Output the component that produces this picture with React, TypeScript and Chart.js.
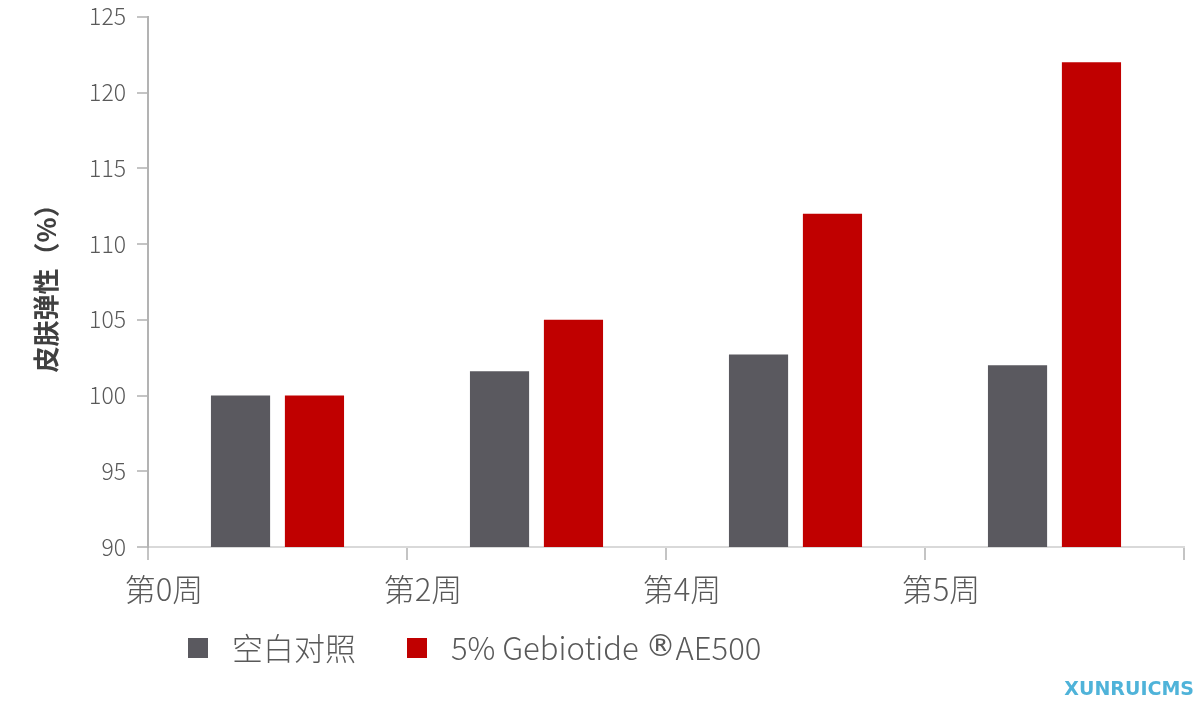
import React, { useEffect, useRef } from "react";
import { Chart, registerables } from "chart.js";

Chart.register(...registerables);

const categories = ["第0周", "第2周", "第4周", "第5周"];
const seriesNames = ["空白对照", "5% Gebiotide ®AE500"];
const controlValues = [100, 101.6, 102.7, 102.0];
const treatedValues = [100, 105, 112, 122];
const yTitle = "皮肤弹性（%）";
const watermark = "XUNRUICMS";

const FONT = '"Noto Sans CJK SC", "Noto Sans", sans-serif';
const TEXT = "#595959";
const COLORS = ["#5a595f", "#c00000"];

const legendPlugin = {
  id: "customLegend",
  afterDraw(chart: any) {
    const ctx = chart.ctx;
    ctx.save();
    const mainFont = `300 31px ${FONT}`;
    const symFont = `30px "DejaVu Sans", sans-serif`;
    ctx.textBaseline = "middle";
    let x = 188;
    const y = 648;
    chart.data.datasets.forEach((ds: any) => {
      ctx.fillStyle = ds.backgroundColor;
      ctx.fillRect(x, y - 10, 20, 20);
      x += 20 + 24;
      ctx.fillStyle = TEXT;
      const parts = String(ds.label).split("®");
      parts.forEach((p: string, j: number) => {
        if (j > 0) {
          ctx.font = symFont;
          ctx.fillText("®", x, y);
          x += ctx.measureText("®").width;
        }
        ctx.font = mainFont;
        ctx.fillText(p, x, y);
        x += ctx.measureText(p).width;
      });
      x += 51;
    });
    ctx.font = `bold 19px "DejaVu Sans", sans-serif`;
    ctx.fillStyle = "#4fb3d9";
    ctx.textAlign = "right";
    ctx.fillText(watermark, 1194, 690);
    ctx.restore();
  },
};

export default function App() {
  const ref = useRef<HTMLCanvasElement | null>(null);
  useEffect(() => {
    if (!ref.current) return;
    const chart = new Chart(ref.current, {
      type: "bar",
      data: {
        labels: categories,
        datasets: [
          { label: seriesNames[0], data: controlValues, backgroundColor: COLORS[0] },
          { label: seriesNames[1], data: treatedValues, backgroundColor: COLORS[1] },
        ],
      },
      options: {
        responsive: false,
        animation: false,
        maintainAspectRatio: false,
        layout: { padding: { top: 15, right: 16, bottom: 0, left: 0 } },
        datasets: { bar: { categoryPercentage: 0.571, barPercentage: 0.8 } },
        plugins: { legend: { display: false }, tooltip: { enabled: false } },
        scales: {
          x: {
            offset: true,
            grid: {
              offset: true,
              drawOnChartArea: false,
              drawTicks: true,
              tickLength: 13,
              color: "#c4c4c4",
              lineWidth: 2,
            },
            border: { display: true, color: "#d9d9d9", width: 2 },
            ticks: {
              labelOffset: -113.5,
              padding: 11,
              color: TEXT,
              font: { family: FONT, size: 31, weight: "300" },
              maxRotation: 0,
            },
            afterFit: (s: any) => {
              s.height = 167;
            },
          },
          y: {
            min: 90,
            max: 125,
            grid: {
              drawOnChartArea: false,
              drawTicks: true,
              tickLength: 11,
              color: "#c4c4c4",
              lineWidth: 2,
            },
            border: { display: true, color: "#b3b3b3", width: 2 },
            ticks: {
              stepSize: 5,
              padding: 11,
              color: TEXT,
              font: { family: FONT, size: 23, weight: "300", lineHeight: 0.5 },
            },
            title: {
              display: true,
              text: yTitle,
              color: "#404040",
              font: { family: FONT, size: 26, weight: "bold" },
              padding: { top: 31, bottom: 0 },
            },
            afterFit: (s: any) => {
              s.width = 148;
            },
          },
        },
      },
      plugins: [legendPlugin],
    });
    return () => chart.destroy();
  }, []);
  return (
    <div style={{ position: "fixed", left: 0, top: 0, width: 1200, height: 714, background: "#fff" }}>
      <canvas ref={ref} width={1200} height={714} style={{ width: 1200, height: 714 }} />
    </div>
  );
}
